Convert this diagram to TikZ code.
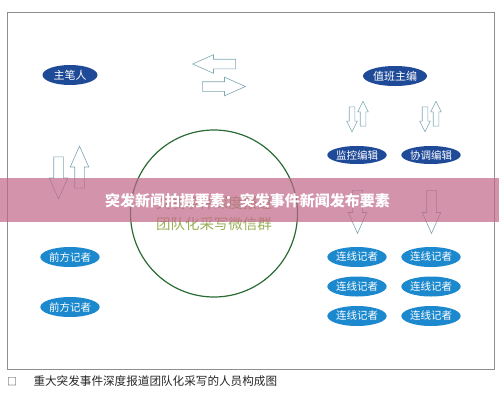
\documentclass[tikz,border=0pt]{standalone}
\usepackage{fontspec}
\newfontfamily\cjk{Noto Sans CJK SC}
\usetikzlibrary{positioning,shapes.geometric,shapes.arrows}
\definecolor{darkblue}{HTML}{1F4A98}
\definecolor{lightblue}{HTML}{1C89CE}
\definecolor{circgreen}{HTML}{2A6B35}
\definecolor{olive}{HTML}{98AF58}
\definecolor{arrowline}{HTML}{7FA8B4}
\definecolor{framegray}{HTML}{8E8E8E}
\definecolor{bandpink}{HTML}{C06688}

\begin{document}
\begin{tikzpicture}[x=1pt,y=-1pt,node distance=30pt,on grid,font=\cjk,
  role/.style={ellipse,fill=darkblue,text=white,minimum width=55pt,minimum height=20pt,
    inner sep=0pt,font=\cjk\fontsize{10.5}{12}\selectfont},
  reporter/.style={role,fill=lightblue},
  blockarr/.style={single arrow,draw=arrowline,fill=white,line width=0.6pt,
    inner xsep=0pt,inner ysep=4.5pt,single arrow head extend=4.5pt,
    single arrow tip angle=48,minimum height=42pt},
  smallarr/.style={blockarr,inner ysep=2.5pt,single arrow head extend=2.5pt,
    single arrow tip angle=53,minimum height=25pt}]
  \useasboundingbox (0,0) rectangle (499,400);
  \draw[framegray,line width=0.7pt] (7,12) rectangle (494,369);

  % left column
  \node[role,font=\cjk\fontsize{11}{12}\selectfont] (zhubi) at (70,75) {主笔人};
  \node[blockarr,rotate=-90] (zhubidown) at (58.5,172.5) {};
  \node[blockarr,rotate=90] (zhubiup) [right=21pt of zhubidown] {};
  \node[reporter] (qianfang1) at (70,257) {前方记者};
  \node[reporter] (qianfang2) [below=50pt of qianfang1] {前方记者};

  % top middle
  \node[blockarr,rotate=180,minimum height=43pt] (toleft) at (219.5,64) {};
  \node[blockarr,minimum height=43pt] (toright) at (218.5,86.5) {};

  % circle
  \node[circle,draw=circgreen,line width=1.2pt,minimum size=167pt,align=center,
    text=olive,font=\cjk\fontsize{14.5}{21}\selectfont] (qun) at (214,213.5)
    {突发事件深度报道\\团队化采写微信群};

  % right column
  \node[role,minimum width=64pt,font=\cjk\fontsize{11}{12}\selectfont] (zhiban) at (395,76) {值班主编};
  \node[smallarr,rotate=-90] (jkdown) at (352,116.5) {};
  \node[smallarr,rotate=90] (jkup) [right=11pt of jkdown] {};
  \node[smallarr,rotate=-90] (xtdown) at (425,116.5) {};
  \node[smallarr,rotate=90] (xtup) [right=11pt of xtdown] {};
  \node[role,minimum height=18pt] (jiankong) at (357,155) {监控编辑};
  \node[role,minimum height=18pt] (xietiao) [right=74pt of jiankong] {协调编辑};
  \node[blockarr,minimum height=43pt,rotate=-90] (jkout) at (357.5,206.5) {};
  \node[blockarr,minimum height=43pt,rotate=-90] (xtout) at (431.5,206.5) {};
  \foreach \r/\y in {1/257,2/286.5,3/316}{
    \node[reporter] (lianxian\r a) at (357,\y) {连线记者};
    \node[reporter] (lianxian\r b) [right=74pt of lianxian\r a] {连线记者};
  }

  % banner across the picture
  \fill[bandpink,fill opacity=0.7] (0,178) rectangle (499,222);
  \node[text=white,font=\cjk\bfseries\fontsize{15}{16}\selectfont] (banner) at (247.5,201)
    {突发新闻拍摄要素：突发事件新闻发布要素};

  % caption
  \node[text=black!80,font=\cjk\fontsize{10}{12}\selectfont] (capbox) at (12,381.5) {□};
  \node[anchor=west,text=black!85,font=\cjk\fontsize{11.6}{13}\selectfont] (caption) at (30,381.5)
    {重大突发事件深度报道团队化采写的人员构成图};
\end{tikzpicture}
\end{document}
